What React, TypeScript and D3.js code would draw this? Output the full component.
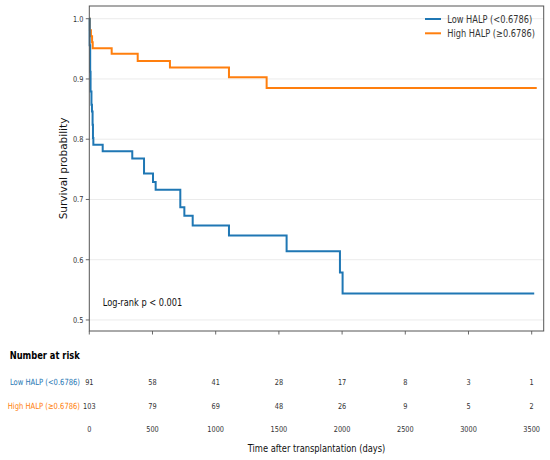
import { useMemo } from "react";
import * as d3 from "d3";

// Kaplan-Meier steps: [days, survival after the event]
const LOW_STEPS: [number, number][] = [
  [0, 1.0], [3, 0.956], [7, 0.912], [10, 0.879], [17, 0.857], [21, 0.846],
  [26, 0.824], [29, 0.802], [32, 0.791], [106, 0.780], [340, 0.768],
  [433, 0.743], [504, 0.729], [525, 0.716], [720, 0.687], [752, 0.673],
  [818, 0.657], [1105, 0.640], [1561, 0.614], [1983, 0.579], [2004, 0.544],
];
const LOW_END = 3520;

const HIGH_STEPS: [number, number][] = [
  [0, 1.0], [5, 0.981], [13, 0.971], [22, 0.961], [27, 0.951], [177, 0.942],
  [383, 0.930], [638, 0.919], [1105, 0.903], [1403, 0.885],
];
const HIGH_END = 3540;

const X_TICKS = [0, 500, 1000, 1500, 2000, 2500, 3000, 3500];
const Y_TICKS = [0.5, 0.6, 0.7, 0.8, 0.9, 1.0];
const LOW_AT_RISK = [91, 58, 41, 28, 17, 8, 3, 1];
const HIGH_AT_RISK = [103, 79, 69, 48, 26, 9, 5, 2];

const LOW_LABEL = "Low HALP (<0.6786)";
const HIGH_LABEL = "High HALP (\u22650.6786)";
const BLUE = "#1f77b4";
const ORANGE = "#ff7f0e";

const W = 550;
const H = 460;
const PLOT = { left: 89.3, right: 543.7, top: 6, bottom: 331 };
const FONT = "'DejaVu Sans', Verdana, sans-serif";
const SX = 0.8; // the figure is squeezed horizontally

function Txt({ x, y, size, anchor = "start", fill = "#333", weight = "normal", children }: {
  x: number; y: number; size: number; anchor?: string; fill?: string; weight?: string; children: any;
}) {
  return (
    <text
      transform={`translate(${x},${y}) scale(${SX},1)`}
      fontSize={size}
      textAnchor={anchor}
      fill={fill}
      fontWeight={weight}
      fontFamily={FONT}
    >
      {children}
    </text>
  );
}

export default function App() {
  const x = useMemo(
    () => d3.scaleLinear().domain([0, 3595]).range([PLOT.left, PLOT.right]),
    []
  );
  const y = useMemo(
    () => d3.scaleLinear().domain([0.4817, 1.0211]).range([PLOT.bottom, PLOT.top]),
    []
  );

  const line = d3
    .line<[number, number]>()
    .x((d) => x(d[0]))
    .y((d) => y(d[1]))
    .curve(d3.curveStepAfter);

  const lowPath = line([...LOW_STEPS, [LOW_END, LOW_STEPS[LOW_STEPS.length - 1][1]]]) ?? "";
  const highPath = line([...HIGH_STEPS, [HIGH_END, HIGH_STEPS[HIGH_STEPS.length - 1][1]]]) ?? "";

  return (
    <svg
      width={W}
      height={H}
      style={{ position: "absolute", left: 0, top: 0, background: "#fff" }}
    >
      {/* grid */}
      {Y_TICKS.map((t) => (
        <line key={t} x1={PLOT.left} x2={PLOT.right} y1={y(t)} y2={y(t)} stroke="#ebebeb" strokeWidth={1} />
      ))}

      {/* y ticks */}
      {Y_TICKS.map((t) => (
        <g key={"y" + t}>
          <line x1={PLOT.left - 3.5} x2={PLOT.left} y1={y(t)} y2={y(t)} stroke="#444" strokeWidth={0.8} />
          <Txt x={PLOT.left - 6} y={y(t) + 3} size={8.2} anchor="end">{t.toFixed(1)}</Txt>
        </g>
      ))}

      {/* x ticks */}
      {X_TICKS.map((t) => (
        <line key={"x" + t} x1={x(t)} x2={x(t)} y1={PLOT.bottom} y2={PLOT.bottom + 3.5} stroke="#444" strokeWidth={0.8} />
      ))}

      {/* curves */}
      <path d={highPath} fill="none" stroke={ORANGE} strokeWidth={2} />
      <path d={lowPath} fill="none" stroke={BLUE} strokeWidth={2} />

      {/* frame */}
      <rect
        x={PLOT.left}
        y={PLOT.top}
        width={PLOT.right - PLOT.left}
        height={PLOT.bottom - PLOT.top}
        fill="none"
        stroke="#555"
        strokeWidth={1}
      />

      {/* legend */}
      <line x1={425} x2={441} y1={19} y2={19} stroke={BLUE} strokeWidth={2} />
      <Txt x={447.3} y={23} size={10.3}>{LOW_LABEL}</Txt>
      <line x1={425} x2={441} y1={33.3} y2={33.3} stroke={ORANGE} strokeWidth={2} />
      <Txt x={447.3} y={37.3} size={10.3}>{HIGH_LABEL}</Txt>

      <Txt x={102.7} y={305.5} size={10.3} fill="#111">Log-rank p &lt; 0.001</Txt>

      {/* y label */}
      <text
        transform={`translate(66.5,${(PLOT.top + PLOT.bottom) / 2}) rotate(-90)`}
        fontSize={10.5}
        textAnchor="middle"
        fontFamily={FONT}
        fill="#111"
      >
        Survival probability
      </text>

      {/* number at risk */}
      <Txt x={9.7} y={359.3} size={10.4} weight="bold" fill="#000">Number at risk</Txt>
      <Txt x={80} y={385} size={8.5} anchor="end" fill={BLUE}>{LOW_LABEL}</Txt>
      <Txt x={80} y={409} size={8.5} anchor="end" fill={ORANGE}>{HIGH_LABEL}</Txt>
      {X_TICKS.map((t, i) => (
        <g key={"r" + t}>
          <Txt x={x(t)} y={385} size={8.2} anchor="middle">{LOW_AT_RISK[i]}</Txt>
          <Txt x={x(t)} y={409} size={8.2} anchor="middle">{HIGH_AT_RISK[i]}</Txt>
          <Txt x={x(t)} y={431.7} size={8.2} anchor="middle">{t}</Txt>
        </g>
      ))}

      <Txt x={(PLOT.left + PLOT.right) / 2} y={451.5} size={10.4} anchor="middle" fill="#111">
        Time after transplantation (days)
      </Txt>
    </svg>
  );
}
